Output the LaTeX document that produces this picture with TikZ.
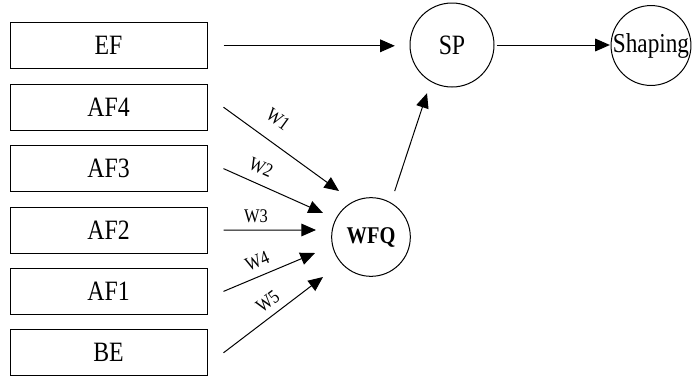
\documentclass[tikz,border=0pt]{standalone}
\usepackage{fontspec}
\setmainfont{Liberation Serif}[FakeStretch=0.85]
\usetikzlibrary{arrows.meta}

\begin{document}
\begin{tikzpicture}[
    x=0.75pt, y=-0.75pt,
    queue/.style={draw, line width=0.75pt, minimum width=147.75pt, minimum height=34.5pt, inner sep=0pt, font=\fontsize{21}{21}\selectfont},
    sched/.style={circle, draw, line width=0.75pt, minimum size=63pt, inner sep=0pt, font=\fontsize{21}{21}\selectfont},
    arrow/.style={-{Triangle[length=11pt, width=9.5pt]}, line width=0.75pt},
    weight/.style={sloped, inner sep=0pt, font=\fontsize{14.5}{14.5}\selectfont}
]
\useasboundingbox (0,0) rectangle (693,379);

% Queues
\foreach \name/\lbl [count=\i from 0] in {ef/EF, af4/AF4, af3/AF3, af2/AF2, af1/AF1, be/BE}
    \node[queue] (\name) at (108.5, {45.8+61.4*\i}) {\lbl};

% Schedulers
\node[sched] (sp) at (452,45) {SP};
\node[sched, minimum size=58pt, font=\fontsize{20.5}{20.5}\selectfont] (shaping) at (651,45.5) {Shaping};
\node[sched, minimum size=59pt, font=\fontsize{18}{18}\selectfont\bfseries] (wfq) at (371,237) {WFQ};

% Arrow ends in front of WFQ
\foreach \dx/\dy [count=\i] in {-32/-46, -48/-24, -55/-7, -56/16, -48/40}
    \coordinate (w\i) at ([shift={(\dx,\dy)}]wfq.center);

% Strict priority path
\draw[arrow, shorten <=12pt, shorten >=11pt] (ef.east) -- (ef.east -| sp.west);
\draw[arrow, shorten <=1.5pt, shorten >=0.5pt] (sp.east) -- (sp.east -| shaping.west);
\draw[arrow, shorten <=9pt, shorten >=9pt] (wfq.60) -- (sp.240);

% Weighted queues
\draw[arrow] ([xshift=12pt]af4.east) -- node[weight, pos=.36, above=11.4pt] {W1} (w1);
\draw[arrow] ([xshift=12pt]af3.east) -- node[weight, pos=.31, above=7pt] {W2} (w2);
\draw[arrow] ([xshift=12pt]af2.east) -- node[weight, pos=.35, above=5pt] {W3} (w3);
\draw[arrow] ([xshift=12pt]af1.east) -- node[weight, pos=.43, above=5.6pt] {W4} (w4);
\draw[arrow] ([xshift=12pt]be.east) -- node[weight, pos=.53, above=5.2pt] {W5} (w5);

\end{tikzpicture}
\end{document}
